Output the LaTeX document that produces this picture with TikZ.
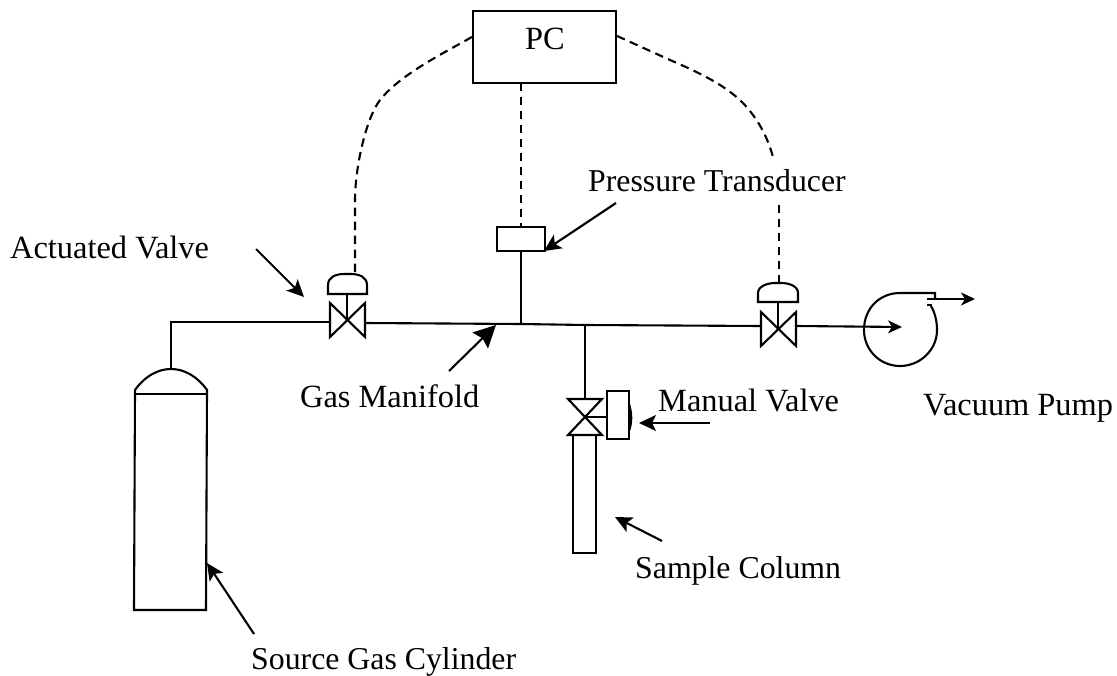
\documentclass[tikz,border=0pt]{standalone}
\usepackage{fontspec}
\setmainfont{Liberation Serif}
\usetikzlibrary{arrows.meta}
\tikzset{
  ln/.style={line width=2.1pt,line join=miter},
  sig/.style={line width=2.1pt,dash pattern=on 8.5pt off 5.5pt},
  lab/.style={anchor=base west,inner sep=0pt,font=\fontsize{32.4}{36}\selectfont},
  labsmall/.style={lab,font=\fontsize{31.8}{36}\selectfont},
  boxn/.style={draw,line width=2.1pt,inner sep=0pt,minimum width=#1},
  callout/.style={line width=2.1pt,-{Stealth[length=17pt,width=16pt,inset=4pt]}},
  bigcallout/.style={line width=2.1pt,-{Stealth[length=22pt,width=22pt,inset=3pt]}},
  flow/.style={line width=2.1pt,-{Stealth[length=14pt,width=13pt,inset=4pt]}}
}
\begin{document}
\begin{tikzpicture}[x=1pt,y=-1pt]
\useasboundingbox (0,0) rectangle (1117,676);
% boxes
\node[boxn=143pt,minimum height=72pt] (pc) at (544.5,47) {};
\node[lab,anchor=base] (pclabel) at (545,50) {PC};
\node[boxn=48pt,minimum height=24pt] (pt) at (521,239) {};
\node[boxn=22pt,minimum height=48pt] (hand) at (618,415) {};
% labels
\node[lab] (lact) at (10,259) {Actuated Valve};
\node[labsmall] (lpt) at (588,192) {Pressure Transducer};
\node[lab] (lman) at (300,407) {Gas Manifold};
\node[lab] (lmv) at (658,411) {Manual Valve};
\node[lab] (lvp) at (923,415) {Vacuum Pump};
\node[labsmall] (lsc) at (635,578) {Sample Column};
\node[labsmall] (lsg) at (251,669) {Source Gas Cylinder};
% key points
\coordinate (v1) at (347,321);
\coordinate (v2) at (778,328);
\coordinate (v3) at (584,417);
\coordinate (cyltop) at (171,369);
\coordinate (pipecorner) at (171,322);
\coordinate (v1l) at (330,322);
\coordinate (v1r) at (365,323);
\coordinate (jpt) at (521,324);
\coordinate (jsc) at (585,325);
\coordinate (v2l) at (761,326);
\coordinate (v2r) at (796,326);
\coordinate (v1act) at (355,274);
\coordinate (v2act) at (779,283);
% pipes
\draw[ln] (cyltop) -- (pipecorner) -- (v1l);
\draw[ln] (v1r) -- (jpt) -- (jsc) -- (v2l);
\draw[ln] (pt.south) -- (jpt);
\draw[ln] (jsc) -- (585,399);
% valve 1
\draw[ln] (330,303) -- (365,337) -- (365,303) -- (330,337) -- cycle;
\draw[ln] (328,294) -- (328,285) .. controls (328,277) and (336,274) .. (344,274) -- (351,274) .. controls (359,274) and (367,277) .. (367,285) -- (367,294) -- cycle;
\draw[ln] (347,294) -- (v1);
% valve 2
\draw[ln] (761,312) -- (796,346) -- (796,312) -- (761,346) -- cycle;
\draw[ln] (758,302) -- (758,293) .. controls (758,286) and (768,283) .. (775,283) -- (781,283) .. controls (789,283) and (798,286) .. (798,293) -- (798,302) -- cycle;
\draw[ln] (778,302) -- (v2);
% manual valve
\draw[ln] (568,399) -- (602,399) -- (568,435) -- (602,435) -- cycle;
\draw[ln] (v3) -- (hand.west |- v3);
\draw[ln] (629,404) .. controls (632,414) and (632,422) .. (629,431);
% sample column
\draw[ln] (573,435) -- (573,553) -- (596,553) -- (596,435);
% cylinder
\draw[ln] (135,390) .. controls (145,376) and (158,369) .. (cyltop) .. controls (184,369) and (197,376) .. (207,390) -- (206,610) -- (134,610) -- cycle;
\draw[ln] (135,394) -- (207,394);
% pump
\draw[ln] (931,306) .. controls (935,313) and (937,321) .. (937,330) .. controls (937,350) and (920,366) .. (900,366) .. controls (880,366) and (864,350) .. (864,330) .. controls (864,308) and (880,293) .. (900,293) -- (935,293) -- (935,299);
\draw[ln] (927,305) -- (932,305);
\draw[flow] (927,299) -- (975,299);
\draw[flow] (v2r) -- (902,327);
% signal lines
\draw[sig] (521,83) -- (pt.north -| 521,0);
\draw[sig] (pc.west |- 0,37) .. controls (440,55) and (400,75) .. (380,100) .. controls (365,120) and (355,170) .. (355,200) -- (v1act);
\draw[sig] (pc.east |- 0,36) -- (670,60) .. controls (700,73) and (725,85) .. (743,103) .. controls (757,118) and (767,135) .. (773,157);
\draw[sig] (779,205) -- (v2act);
% callouts
\coordinate (a1s) at (256,249); \coordinate (a1e) at (304,297);
\coordinate (a2s) at (449,371); \coordinate (a2e) at (496,325);
\coordinate (a3s) at (616,203); \coordinate (a3e) at (544,251);
\coordinate (a4s) at (710,423); \coordinate (a4e) at (639,423);
\coordinate (a5s) at (662,541); \coordinate (a5e) at (615,517);
\coordinate (a6s) at (254,634); \coordinate (a6e) at (207,563);
\draw[callout] (a1s) -- (a1e);
\draw[bigcallout] (a2s) -- (a2e);
\draw[callout] (a3s) -- (a3e);
\draw[callout] (a4s) -- (a4e);
\draw[callout] (a5s) -- (a5e);
\draw[callout] (a6s) -- (a6e);
\end{tikzpicture}
\end{document}
